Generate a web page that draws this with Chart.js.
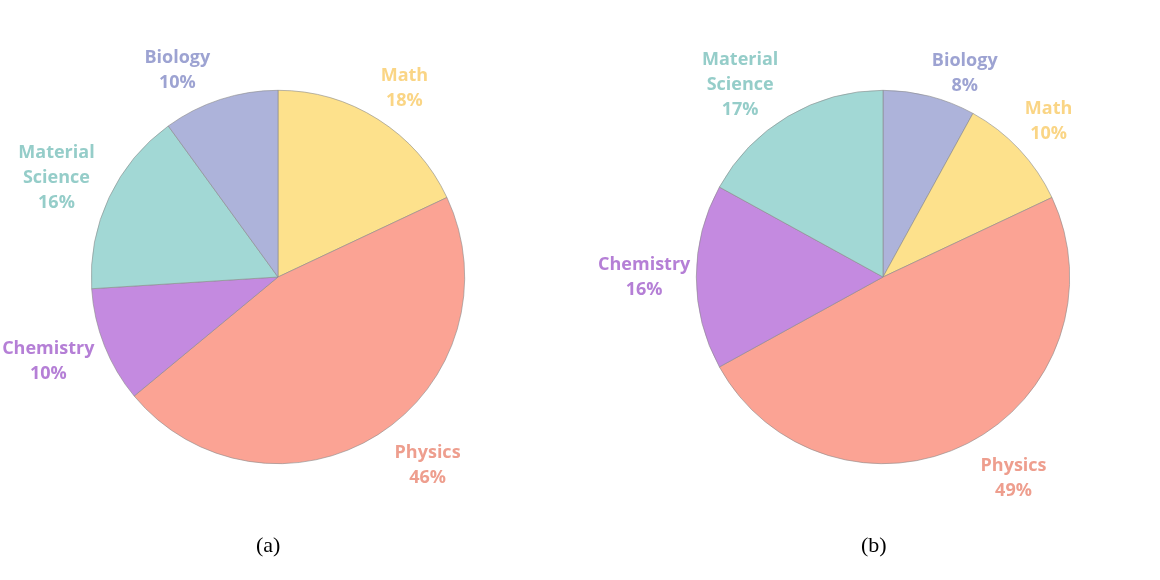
<!DOCTYPE html>
<html>
<head>
<meta charset="utf-8">
<script src="https://cdn.jsdelivr.net/npm/chart.js@4.4.1/dist/chart.umd.min.js"></script>
<style>
  html, body { margin:0; padding:0; background:#fff; }
  #wrap { position:relative; width:1160px; height:580px; overflow:hidden; }
  .box { position:absolute; top:0; width:580px; height:580px; }
  .cap { position:absolute; top:532px; font-family:"Liberation Serif","Times New Roman",serif; font-size:22px; color:#000; }
</style>
</head>
<body>
<div id="wrap">
  <div class="box" style="left:0"><canvas id="ca"></canvas></div>
  <div class="box" style="left:580px"><canvas id="cb"></canvas></div>
  <div class="cap" style="left:256px">(a)</div>
  <div class="cap" style="left:861px">(b)</div>
</div>
<script>
// Data
const labelsA = ["Math", "Physics", "Chemistry", "Material\nScience", "Biology"];
const valuesA = [18, 46, 10, 16, 10];
const labelsB = ["Biology", "Math", "Physics", "Chemistry", "Material\nScience"];
const valuesB = [8, 10, 49, 16, 17];

// Styling: colours and label placement nudges (angle in degrees, extra distance in px)
const fillColor = {
  "Math": "#FDE18C", "Physics": "#FBA394", "Chemistry": "#C48AE0",
  "Material\nScience": "#A2D8D5", "Biology": "#ADB3DA"
};
const textColor = {
  "Math": "#FAD585", "Physics": "#EE9E8E", "Chemistry": "#B57FD6",
  "Material\nScience": "#95CDC9", "Biology": "#9DA3D2"
};
const angleNudgeA = [1.5, -6, 1.5, -1, -8];
const angleNudgeB = [7.5, 0, -6, 0, -6];
const distNudgeA = [0, 8, 0, 0, 0];
const distNudgeB = [-9, 0, 8, 0, -6];

const labelPlugin = {
  id: 'outLabels',
  afterDatasetsDraw(chart, args, opts) {
    const ctx = chart.ctx;
    const meta = chart.getDatasetMeta(0);
    const data = chart.data.datasets[0].data;
    const total = data.reduce((a, b) => a + b, 0);
    const an = opts.angle || [], dn = opts.dist || [];
    ctx.save();
    ctx.font = 'bold 18px "Open Sans", Lato, sans-serif';
    ctx.textAlign = 'center';
    ctx.textBaseline = 'middle';
    const lh = 25;
    meta.data.forEach((arc, i) => {
      const p = arc.getProps(['x', 'y', 'startAngle', 'endAngle', 'outerRadius'], true);
      const mid = (p.startAngle + p.endAngle) / 2 + (an[i] || 0) * Math.PI / 180;
      const name = chart.data.labels[i];
      const lines = name.split('\n').concat([Math.round(data[i] / total * 100) + '%']);
      let w = 0;
      lines.forEach(l => { w = Math.max(w, ctx.measureText(l).width); });
      const hw = w / 2, hh = lines.length * lh / 2;
      const c = Math.cos(mid), s = Math.sin(mid);
      const d = p.outerRadius + 6 + (dn[i] || 0) + Math.abs(c) * hw + Math.abs(s) * hh;
      const cx = p.x + c * d, cy = p.y + s * d;
      ctx.fillStyle = textColor[name];
      lines.forEach((l, k) => {
        ctx.fillText(l, cx, cy - hh + lh / 2 + k * lh);
      });
    });
    ctx.restore();
  }
};

function makePie(id, labels, values, pad, angle, dist) {
  new Chart(document.getElementById(id), {
    type: 'pie',
    data: {
      labels: labels,
      datasets: [{
        data: values,
        backgroundColor: labels.map(l => fillColor[l]),
        borderColor: '#8a8a8a',
        borderWidth: 0.6
      }]
    },
    options: {
      responsive: false,
      animation: false,
      layout: { padding: pad },
      plugins: { legend: { display: false }, tooltip: { enabled: false }, outLabels: { angle: angle, dist: dist } }
    },
    plugins: [labelPlugin]
  });
}
const cA = document.getElementById('ca'); cA.width = 580; cA.height = 580;
const cB = document.getElementById('cb'); cB.width = 580; cB.height = 580;
makePie('ca', labelsA, valuesA, { left: 91, right: 115, top: 90, bottom: 116 }, angleNudgeA, distNudgeA);
makePie('cb', labelsB, valuesB, { left: 116, right: 90, top: 90, bottom: 116 }, angleNudgeB, distNudgeB);
</script>
</body>
</html>
